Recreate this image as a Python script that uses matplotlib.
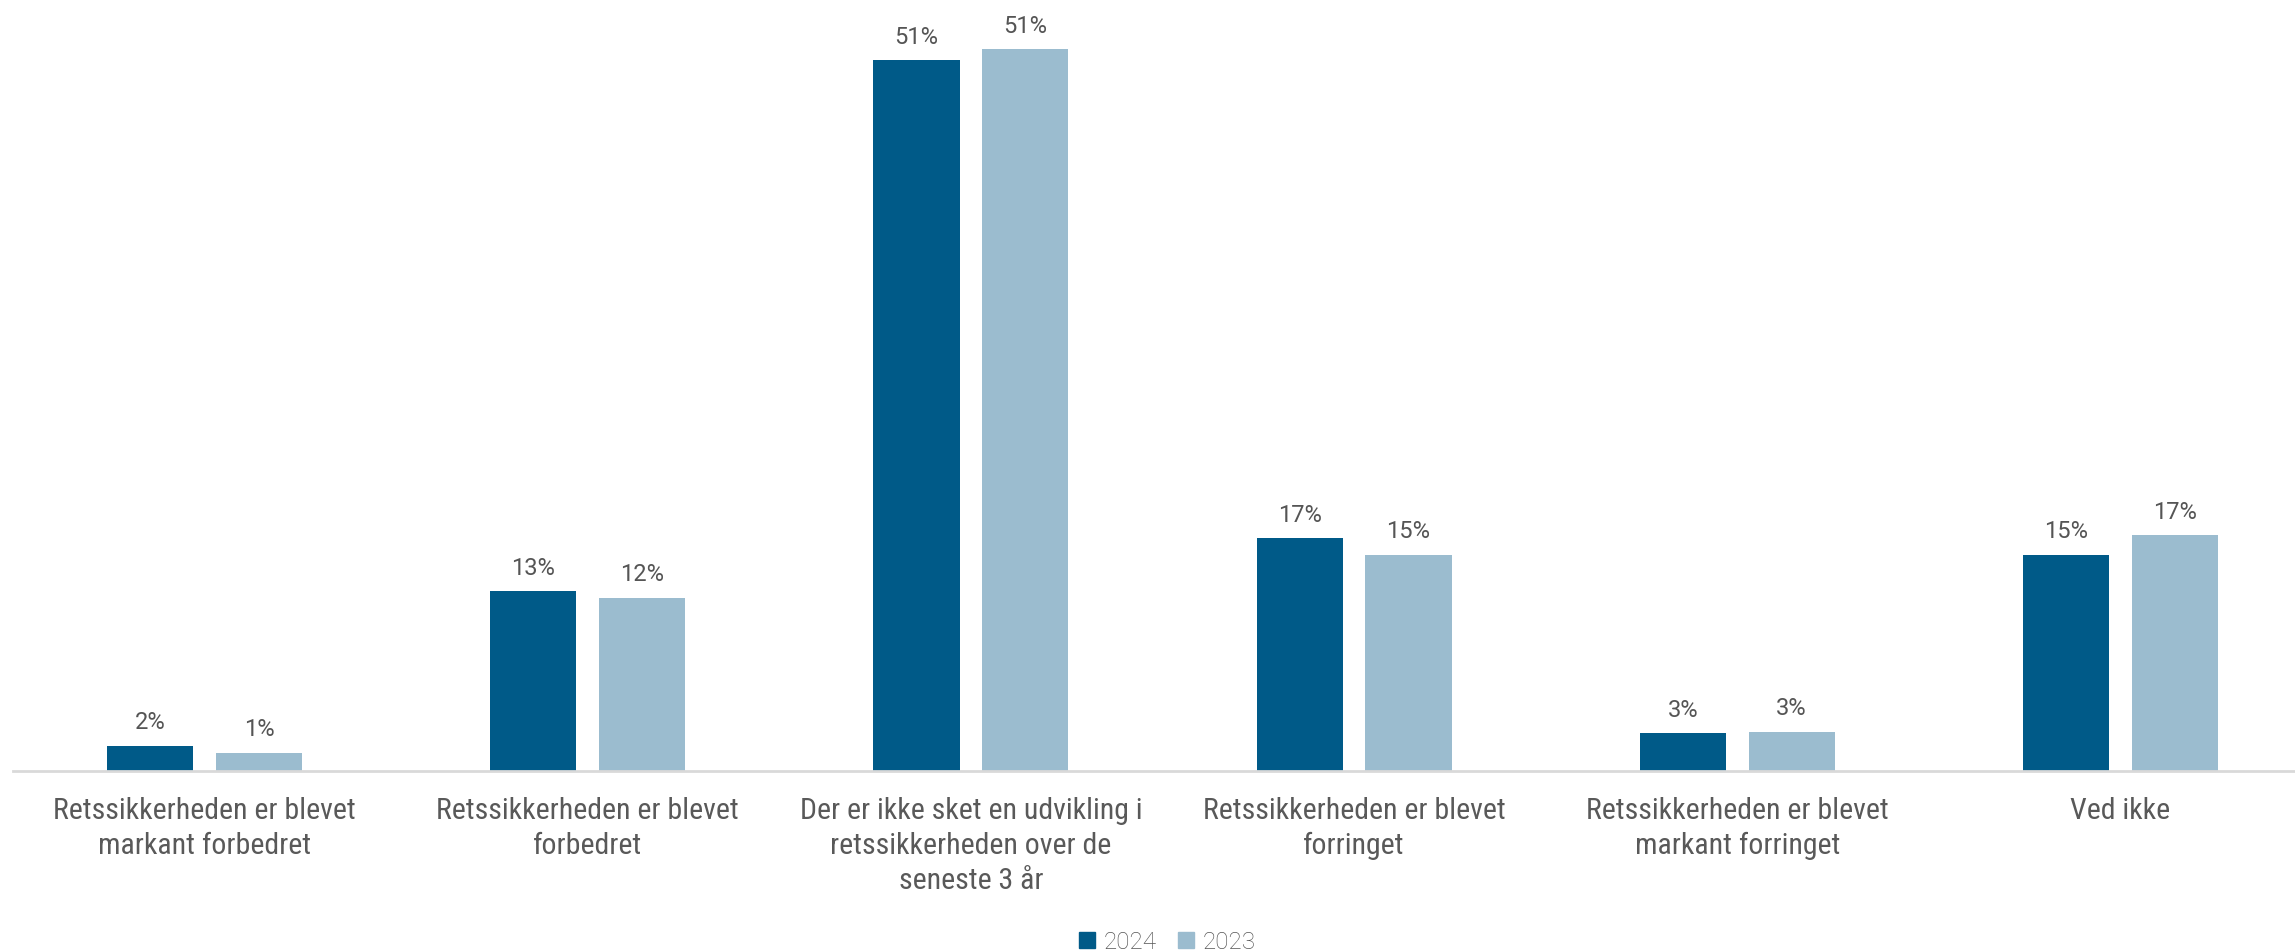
import matplotlib
matplotlib.use("Agg")
import matplotlib.pyplot as plt
import numpy as np
from matplotlib.patches import Patch

categories = [
    "Retssikkerheden er blevet\nmarkant forbedret",
    "Retssikkerheden er blevet\nforbedret",
    "Der er ikke sket en udvikling i\nretssikkerheden over de\nseneste 3 år",
    "Retssikkerheden er blevet\nforringet",
    "Retssikkerheden er blevet\nmarkant forringet",
    "Ved ikke",
]
series_names = ["2024", "2023"]
values_2024 = [1.8, 12.9, 51.0, 16.7, 2.7, 15.5]
values_2023 = [1.3, 12.4, 51.8, 15.5, 2.8, 16.9]
labels_2024 = ["2%", "13%", "51%", "17%", "3%", "15%"]
labels_2023 = ["1%", "12%", "51%", "15%", "3%", "17%"]

c2024 = "#005A88"
c2023 = "#9BBCCF"
txt = "#595959"
lab_col = "#555555"

W, H = 2295, 953
fig = plt.figure(figsize=(W / 100, H / 100), dpi=100)
left = 13 / W
right = 2312 / W
bottom = 1 - 771.7 / H
ax = fig.add_axes([left, bottom, right - left, 1 - bottom])

x = np.arange(len(categories))
bw = 0.2245
off = 0.142
b1 = ax.bar(x - off, values_2024, bw, color=c2024, zorder=2)
b2 = ax.bar(x + off, values_2023, bw, color=c2023, zorder=2)

lab_font = dict(family=["Roboto", "DejaVu Sans"], weight="normal", size=17, color=lab_col)
for bars, labs in ((b1, labels_2024), (b2, labels_2023)):
    for r, l in zip(bars, labs):
        ax.annotate(l, (r.get_x() + r.get_width() / 2, r.get_height()),
                    xytext=(0, 9), textcoords="offset points",
                    ha="center", va="bottom", **lab_font)

ax.set_xlim(-0.5, 5.5)
ax.set_ylim(0, 771.7 / 13.93)
for s in ["top", "right", "left"]:
    ax.spines[s].set_visible(False)
ax.spines["bottom"].set_color("#d9d9d9")
ax.spines["bottom"].set_linewidth(2)
ax.set_yticks([])
ax.set_xticks(x)
ax.set_xticklabels(categories, family=["Roboto Condensed", "Roboto", "DejaVu Sans"],
                   size=21.5, color=txt, linespacing=1.33)
ax.tick_params(axis="x", length=0, pad=18)

handles = [Patch(color=c2024, label=series_names[0]), Patch(color=c2023, label=series_names[1])]
fig.legend(handles=handles, loc="center", bbox_to_anchor=(1167.5 / W, 1 - 943 / H),
           ncol=2, frameon=False, handlelength=0.65, handleheight=0.65,
           handletextpad=0.35, columnspacing=0.9,
           prop=dict(family=["Roboto", "DejaVu Sans"], weight="light", size=17.5),
           labelcolor=lab_col)

fig.savefig("out.png", dpi=100)
